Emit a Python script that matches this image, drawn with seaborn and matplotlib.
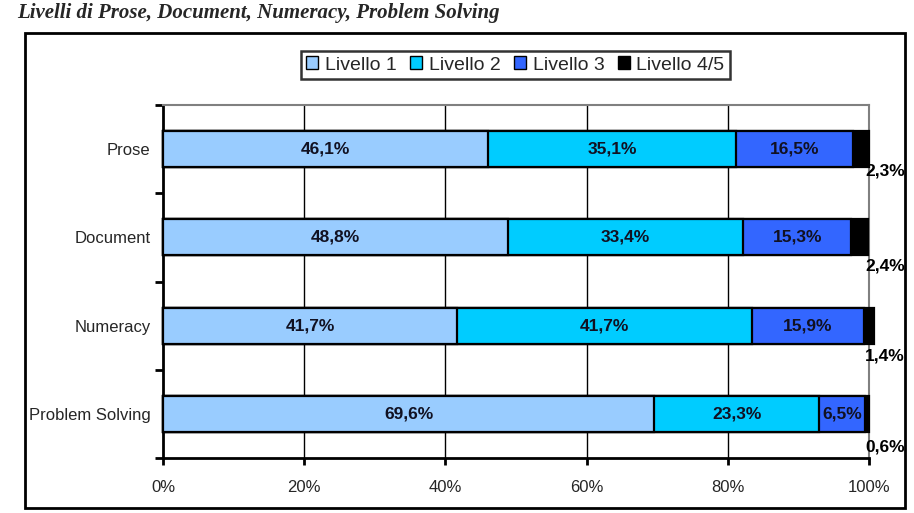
import matplotlib
matplotlib.use("Agg")
import matplotlib.pyplot as plt
from matplotlib.patches import Rectangle
import seaborn as sns
import pandas as pd
import numpy as np

categories = ["Prose", "Document", "Numeracy", "Problem Solving"]
series_names = ["Livello 1", "Livello 2", "Livello 3", "Livello 4/5"]
livello1 = [46.1, 48.8, 41.7, 69.6]
livello2 = [35.1, 33.4, 41.7, 23.3]
livello3 = [16.5, 15.3, 15.9, 6.5]
livello45 = [2.3, 2.4, 1.4, 0.6]
x_ticks = [0, 20, 40, 60, 80, 100]
x_tick_labels = ["0%", "20%", "40%", "60%", "80%", "100%"]
title = "Livelli di Prose, Document, Numeracy, Problem Solving"

colors = ["#99CCFF", "#00CCFF", "#3366FF", "#000000"]

sns.set_style("white")
plt.rcParams["font.family"] = ["Liberation Sans", "DejaVu Sans"]

fig = plt.figure(figsize=(9.14, 5.13), dpi=100)
ax = fig.add_axes([163/914, 1-458/513, (869-163)/914, (458-105)/513])

series = [livello1, livello2, livello3, livello45]
cum = np.cumsum(np.array(series), axis=0)  # shape (4 series, 4 categories)

# draw cumulative layers from largest to smallest
for i in range(3, -1, -1):
    df = pd.DataFrame({"cat": categories, "val": cum[i]})
    sns.barplot(data=df, y="cat", x="val", order=categories, orient="h",
                color=colors[i], saturation=1, width=0.41,
                edgecolor="black", linewidth=1.6, ax=ax, zorder=3)

for p in ax.patches:
    p.set_clip_on(False)

# labels inside bars
for j, cat in enumerate(categories):
    left = 0
    for i in range(3):
        v = series[i][j]
        ax.text(left + v/2, j, f"{v:.1f}%".replace(".", ","), ha="center", va="center",
                fontsize=12.5, fontweight="bold", color="#111122", zorder=5)
        left += v

label_offsets = [0.25, 0.32, 0.34, 0.38]
for j, cat in enumerate(categories):
    ax.text(102.3, j + label_offsets[j], f"{livello45[j]:.1f}%".replace(".", ","),
            ha="center", va="center", fontsize=12.5, fontweight="bold", color="black",
            zorder=5, clip_on=False)

ax.set_xlim(0, 100)
ax.set_ylim(3.5, -0.5)
ax.set_xlabel("")
ax.set_ylabel("")
ax.set_xticks(x_ticks)
ax.set_xticklabels(x_tick_labels, fontsize=12)
ax.set_yticks(range(len(categories)))
ax.set_yticklabels(categories, fontsize=12)
ax.set_yticks(np.arange(-0.5, 4.0, 1.0), minor=True)
ax.tick_params(axis="y", which="major", length=0, pad=9)
ax.tick_params(axis="y", which="minor", length=6, width=2, direction="out", left=True, color="black")
ax.tick_params(axis="x", which="major", length=5, width=2, direction="out", bottom=True, pad=11, color="black")

for x in [20, 40, 60, 80]:
    ax.axvline(x, color="black", lw=1, zorder=1)

for s in ["left", "bottom"]:
    ax.spines[s].set_color("black")
    ax.spines[s].set_linewidth(2)
for s in ["top", "right"]:
    ax.spines[s].set_color("#808080")
    ax.spines[s].set_linewidth(1.5)
    ax.spines[s].set_visible(True)

handles = [Rectangle((0, 0), 1, 1, facecolor=c, edgecolor="black", lw=1) for c in colors]
leg = fig.legend(handles, series_names, loc="center", bbox_to_anchor=(515.5/914, 1-65/513),
                 ncol=4, frameon=True, fancybox=False, edgecolor="black", fontsize=14,
                 handlelength=0.6, handleheight=0.6, columnspacing=0.7, handletextpad=0.35,
                 borderpad=0.3, borderaxespad=0)
leg.get_frame().set_linewidth(1.8)

fig.add_artist(Rectangle((25/914, 1-508/513), (905-25)/914, (508-33)/513,
                         transform=fig.transFigure, fill=False, lw=2, edgecolor="black"))

fig.text(17/914, 1-13/513, title, fontfamily=["Liberation Serif", "DejaVu Serif"],
         fontweight="bold", fontstyle="italic", fontsize=15, va="center", ha="left")

fig.savefig("out.png", dpi=100)
